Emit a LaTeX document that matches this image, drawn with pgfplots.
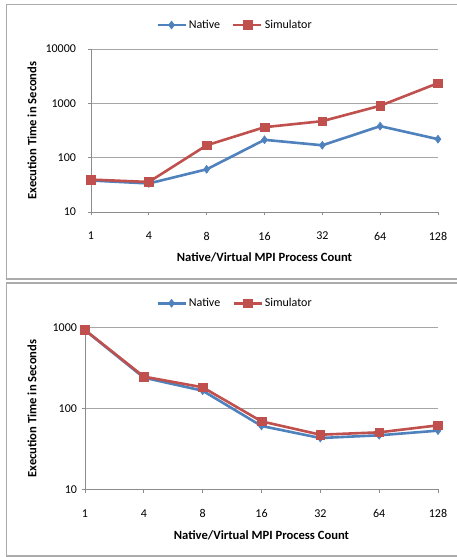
\documentclass[border=0pt]{standalone}
\usepackage{fontspec}
\setmainfont{Carlito}
\usepackage{pgfplots}
\pgfplotsset{compat=1.18}
\definecolor{natc}{HTML}{4F81BD}
\definecolor{simc}{HTML}{C0504D}
\definecolor{gridc}{HTML}{A6A6A6}
\definecolor{axc}{HTML}{8C8C8C}
\definecolor{framec}{HTML}{ABABAB}
\pgfkeys{/pgf/number format/assume math mode=true}
\pgfplotsset{
  natplot/.style={color=natc, line width=2.6pt, mark=diamond*, mark size=4pt, mark options={solid, fill=natc, draw=natc, line width=0.5pt}},
  simplot/.style={color=simc, line width=2.6pt, mark=square*, mark size=4.3pt, mark options={solid, fill=simc, draw=simc, line width=0.5pt}},
}
\begin{document}
\begin{tikzpicture}
\useasboundingbox (0pt,0pt) rectangle (456pt,557pt);
\fill[white] (0pt,0pt) rectangle (456pt,557pt);
% frames
\draw[framec, line width=1.6pt] (460pt,552.5pt) -- (6.5pt,552.5pt) -- (6.5pt,277.7pt) -- (460pt,277.7pt);
\draw[framec, line width=1.6pt] (460pt,274pt) -- (6.5pt,274pt) -- (6.5pt,0.8pt) -- (460pt,0.8pt);

\begin{axis}[
  scale only axis,
  ymode=log,
  xmin=0, xmax=6,
  xtick={0,1,2,3,4,5,6},
  xticklabels={1,4,8,16,32,64,128},
  axis x line=bottom, axis y line=left,
  axis line style={draw=axc, line width=0.9pt, -},
  ymajorgrids, grid style={draw=gridc, line width=0.9pt},
  tick align=outside, major tick length=3.5pt,
  tick style={draw=axc, line width=0.9pt},
  yminorticks=false,
  tick label style={font=\fontsize{12}{14}\selectfont, text=black},
  label style={font=\bfseries\fontsize{12.6}{15}\selectfont},
  legend columns=2,
  legend style={draw=none, fill=none, font=\fontsize{12}{14}\selectfont, anchor=center,
    /tikz/every even column/.append style={column sep=10pt}},
  legend cell align=left,
  legend image code/.code={\draw[mark repeat=2,mark phase=2,#1] plot coordinates {(0pt,0pt) (14pt,0pt) (28pt,0pt)};},
  at={(91pt,345pt)}, anchor=south west,
  width=347pt, height=163pt,
  ymin=10, ymax=10000,
  ytick={10,100,1000,10000},
  yticklabels={10,100,1000,10000},
  yticklabel style={xshift=-8pt},
  xticklabel style={yshift=-13pt},
  xlabel={Native/Virtual MPI Process Count},
  ylabel={Execution Time in Seconds},
  xlabel style={at={(axis description cs:0.5,-0.276)}, anchor=center},
  ylabel style={at={(axis description cs:-0.170,0.5)}, anchor=center},
  legend style={at={(axis description cs:0.415,1.147)}},
]
\addplot[natplot] coordinates {(0,38) (1,33.5) (2,61) (3,213) (4,169) (5,380) (6,219)};
\addplot[simplot] coordinates {(0,39.5) (1,35.7) (2,169) (3,364) (4,470) (5,902) (6,2355)};
\legend{Native,Simulator}
\end{axis}

\begin{axis}[
  scale only axis,
  ymode=log,
  xmin=0, xmax=6,
  xtick={0,1,2,3,4,5,6},
  xticklabels={1,4,8,16,32,64,128},
  axis x line=bottom, axis y line=left,
  axis line style={draw=axc, line width=0.9pt, -},
  ymajorgrids, grid style={draw=gridc, line width=0.9pt},
  tick align=outside, major tick length=3.5pt,
  tick style={draw=axc, line width=0.9pt},
  yminorticks=false,
  tick label style={font=\fontsize{12}{14}\selectfont, text=black},
  label style={font=\bfseries\fontsize{12.6}{15}\selectfont},
  legend columns=2,
  legend style={draw=none, fill=none, font=\fontsize{12}{14}\selectfont, anchor=center,
    /tikz/every even column/.append style={column sep=10pt}},
  legend cell align=left,
  legend image code/.code={\draw[mark repeat=2,mark phase=2,#1] plot coordinates {(0pt,0pt) (14pt,0pt) (28pt,0pt)};},
  at={(85pt,67.7pt)}, anchor=south west,
  width=353pt, height=161.6pt,
  ymin=10, ymax=1000,
  ytick={10,100,1000},
  yticklabels={10,100,1000},
  yticklabel style={xshift=-1pt},
  xticklabel style={yshift=-13pt},
  xlabel={Native/Virtual MPI Process Count},
  ylabel={Execution Time in Seconds},
  xlabel style={at={(axis description cs:0.5,-0.283)}, anchor=center},
  ylabel style={at={(axis description cs:-0.150,0.5)}, anchor=center},
  legend style={at={(axis description cs:0.425,1.151)}},
]
\addplot[natplot] coordinates {(0,930) (1,241) (2,166) (3,60.8) (4,43.1) (5,46.6) (6,53.2)};
\addplot[simplot] coordinates {(0,936) (1,248) (2,183) (3,69.3) (4,47.4) (5,50.7) (6,61.9)};
\legend{Native,Simulator}
\end{axis}
\end{tikzpicture}
\end{document}
